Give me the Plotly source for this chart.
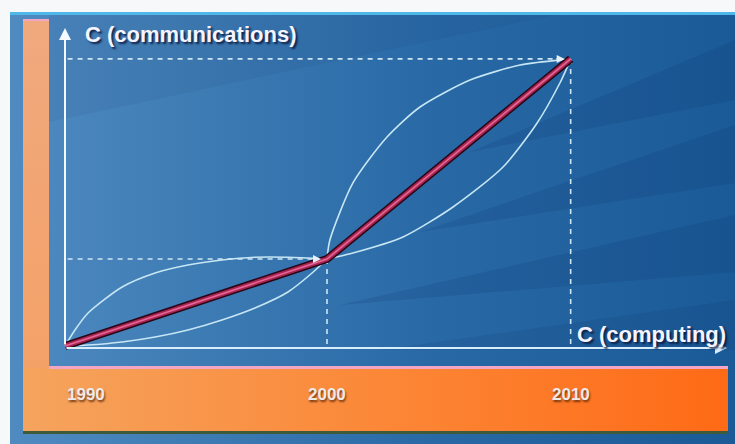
import plotly.graph_objects as go

# ---------------- data ----------------
years = ["1990", "2000", "2010"]
computing = [0.0, 1.0, 1.93]          # C (computing), relative units
communications = [0.0, 1.0, 3.30]     # C (communications), relative units

# alternative (curved) paths between the milestones
upper1_x = [0.0, 0.038, 0.088, 0.218, 0.344, 0.469, 0.599, 0.725, 0.851, 1.0]
upper1_y = [0.0, 0.184, 0.379, 0.678, 0.839, 0.931, 0.989, 1.020, 1.020, 1.0]
lower1_x = [0.0, 0.088, 0.218, 0.344, 0.469, 0.599, 0.725, 0.851, 0.943, 1.0]
lower1_y = [0.0, 0.011, 0.046, 0.103, 0.184, 0.299, 0.437, 0.621, 0.839, 1.0]
upper2_x = [1.0, 1.011, 1.099, 1.229, 1.355, 1.546, 1.737, 1.889, 1.93]
upper2_y = [1.0, 1.218, 1.874, 2.402, 2.747, 3.057, 3.230, 3.287, 3.30]
lower2_x = [1.0, 1.099, 1.290, 1.481, 1.672, 1.802, 1.889, 1.912, 1.93]
lower2_y = [1.0, 1.069, 1.253, 1.598, 2.057, 2.563, 3.023, 3.172, 3.30]

x_title = "C (computing)"
y_title = "C (communications)"

# ---------------- geometry ----------------
W, H = 735, 444
ORIGIN_PX = (65, 346)     # pixel position of data (0,0)
UNIT_PX = (262, 87)       # pixels per data unit

x2_range = [-ORIGIN_PX[0] / UNIT_PX[0], (W - ORIGIN_PX[0]) / UNIT_PX[0]]
y2_range = [-(H - ORIGIN_PX[1]) / UNIT_PX[1], ORIGIN_PX[1] / UNIT_PX[1]]

fig = go.Figure()


def poly(pts, **kw):
    xs = [p[0] for p in pts] + [pts[0][0]]
    ys = [p[1] for p in pts] + [pts[0][1]]
    fig.add_trace(go.Scatter(x=xs, y=ys, mode="lines", fill="toself",
                             line=dict(width=0), hoverinfo="skip",
                             showlegend=False, xaxis="x", yaxis="y", **kw))


def rect(x0, y0, x1, y1, **kw):
    poly([(x0, y0), (x1, y0), (x1, y1), (x0, y1)], **kw)


# ---------------- decorative background (pixel axes) ----------------
rect(0, 0, W, H, fillcolor="#f7f8fa")
rect(10, 13, W, H, fillgradient=dict(
    type="horizontal",
    colorscale=[[0, "#4f8bc1"], [0.3, "#3b79b2"], [0.6, "#2768a5"], [1, "#1a5a97"]]))
# slightly darker top-left zone above the first light edge
poly([(49, 14), (49, 122), (340, 60), (560, 14)], fillcolor="rgba(20,50,100,0.08)")
# soft darker wedges (rays) on the right
poly([(470, 152), (735, 100), (735, 40)], fillcolor="rgba(10,40,90,0.13)")
poly([(420, 232), (735, 183), (735, 125)], fillcolor="rgba(10,40,90,0.13)")
poly([(340, 305), (735, 272), (735, 215)], fillcolor="rgba(10,40,90,0.13)")
poly([(380, 350), (735, 350), (735, 300)], fillcolor="rgba(10,40,90,0.10)")
# top cyan rim
rect(10, 12, W, 15, fillcolor="#4fb8e8")

# orange L frame
rect(23, 20, 49, 432, fillgradient=dict(
    type="vertical", colorscale=[[0, "#f5a064"], [1, "#f0a97e"]]))
rect(23, 368, 728, 432, fillgradient=dict(
    type="horizontal",
    colorscale=[[0, "#f5a45e"], [0.5, "#fb8838"], [1, "#ff6a16"]]))
rect(49, 366, 728, 369, fillcolor="#f0a6c4")
rect(23, 19, 49, 21, fillcolor="#f0a6c4")
rect(23, 431, 728, 434, fillcolor="#3d5a3a")

# ---------------- data traces (overlaid data axes) ----------------
curve_style = dict(mode="lines",
                   line=dict(color="#c6e6f4", width=1.6, shape="spline", smoothing=0.7),
                   hoverinfo="skip", showlegend=False, xaxis="x2", yaxis="y2")
for cx, cy in [(upper1_x, upper1_y), (lower1_x, lower1_y),
               (upper2_x, upper2_y), (lower2_x, lower2_y)]:
    fig.add_trace(go.Scatter(x=cx, y=cy, **curve_style))

guide = dict(mode="lines", line=dict(color="#cfe6f4", width=1.6, dash="5px,5px"),
             hoverinfo="skip", showlegend=False, xaxis="x2", yaxis="y2")
for i in range(1, len(years)):
    fig.add_trace(go.Scatter(x=[0.01, computing[i]],
                             y=[communications[i], communications[i]], **guide))
    fig.add_trace(go.Scatter(x=[computing[i], computing[i]],
                             y=[communications[i], 0], **guide))

# main path (thick tube-like line)
fig.add_trace(go.Scatter(x=computing, y=communications, mode="lines",
                         line=dict(color="#2a0614", width=8), hoverinfo="skip",
                         showlegend=False, xaxis="x2", yaxis="y2"))
fig.add_trace(go.Scatter(x=computing, y=communications, mode="lines",
                         line=dict(color="#ab2455", width=5), hoverinfo="skip",
                         showlegend=False, xaxis="x2", yaxis="y2"))
fig.add_trace(go.Scatter(x=computing, y=communications, mode="lines",
                         line=dict(color="#e06a92", width=1.6), hoverinfo="skip",
                         showlegend=False, xaxis="x2", yaxis="y2"))

# ---------------- annotations ----------------
ann = []
# axes arrows
ann.append(dict(x=0, y=y2_range[1] - 28 / UNIT_PX[1], ax=0, ay=0,
                xref="x2", yref="y2", axref="x2", ayref="y2", text="",
                showarrow=True, arrowhead=2, arrowsize=1.2, arrowwidth=2,
                arrowcolor="#f4f8ff"))
ann.append(dict(x=x2_range[1] - 8 / UNIT_PX[0], y=-2 / UNIT_PX[1], ax=0, ay=-2 / UNIT_PX[1],
                xref="x2", yref="y2", axref="x2", ayref="y2", text="",
                showarrow=True, arrowhead=2, arrowsize=1.2, arrowwidth=2,
                arrowcolor="#d8eefc"))
# arrowheads of horizontal guides
for i in range(1, len(years)):
    ann.append(dict(x=computing[i], y=communications[i],
                    ax=computing[i] - 0.06, ay=communications[i],
                    xref="x2", yref="y2", axref="x2", ayref="y2", text="",
                    showarrow=True, arrowhead=2, arrowsize=1, arrowwidth=1.6,
                    standoff=6, arrowcolor="#e6f2fa"))

title_font = dict(family="Liberation Sans, Arial, sans-serif", size=22,
                  color="#f6f4ff", weight="bold",
                  shadow="2px 2px 2px rgba(8,20,55,0.85)")
ann.append(dict(x=(83 - ORIGIN_PX[0]) / UNIT_PX[0], y=y2_range[1] - 34 / UNIT_PX[1],
                xref="x2", yref="y2",
                text=y_title, showarrow=False, xanchor="left", yanchor="middle",
                font=title_font))
ann.append(dict(x=computing[2] + 0.015, y=12 / UNIT_PX[1], xref="x2", yref="y2",
                text=x_title, showarrow=False, xanchor="left", yanchor="middle",
                font=title_font))

year_font = dict(family="Liberation Sans, Arial, sans-serif", size=17,
                 color="#efeaea", weight="bold",
                 shadow="1px 2px 2px rgba(90,40,10,0.8)")
year_y = -(394 - ORIGIN_PX[1]) / UNIT_PX[1]
for i, yr in enumerate(years):
    if i == 0:
        ann.append(dict(x=computing[i], y=year_y, xref="x2", yref="y2", text=yr,
                        showarrow=False, xanchor="left", yanchor="middle",
                        font=year_font))
    else:
        ann.append(dict(x=computing[i], y=year_y, xref="x2", yref="y2", text=yr,
                        showarrow=False, xanchor="center", yanchor="middle",
                        font=year_font))

hidden = dict(visible=False, showgrid=False, zeroline=False, fixedrange=True)
fig.update_layout(
    width=W, height=H, autosize=False,
    margin=dict(l=0, r=0, t=0, b=0, pad=0),
    paper_bgcolor="#f7f8fa", plot_bgcolor="rgba(0,0,0,0)",
    xaxis=dict(range=[0, W], domain=[0, 1], **hidden),
    yaxis=dict(range=[H, 0], domain=[0, 1], **hidden),
    xaxis2=dict(range=x2_range, overlaying="x", domain=[0, 1], **hidden),
    yaxis2=dict(range=y2_range, overlaying="y", domain=[0, 1], **hidden),
    annotations=ann,
    showlegend=False,
)

fig.write_html("out.html", config=dict(displayModeBar=False))
